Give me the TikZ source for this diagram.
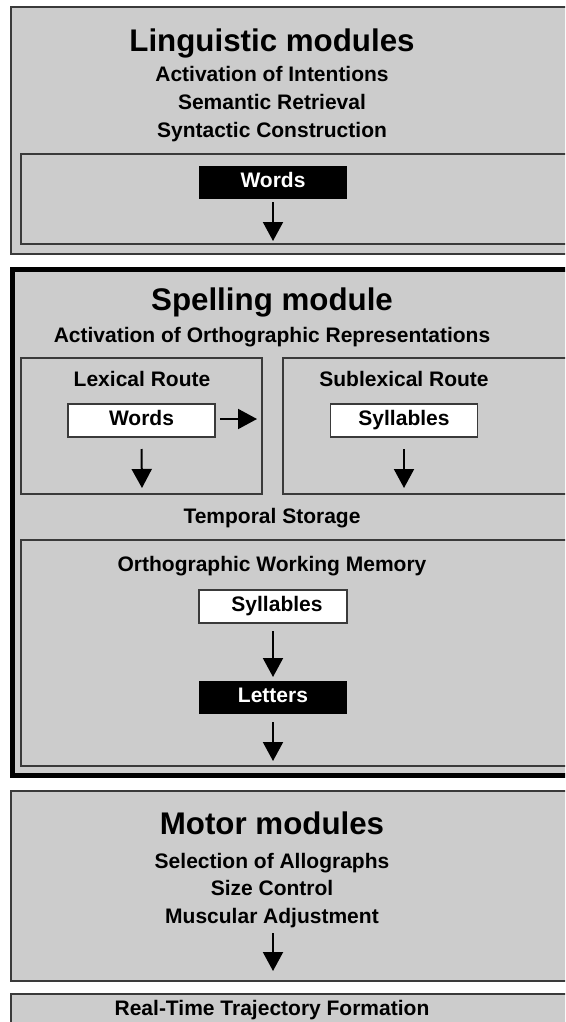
\documentclass[tikz,border=0pt]{standalone}
\usepackage{fontspec}
\setmainfont{Liberation Sans}
\usetikzlibrary{arrows.meta}
\definecolor{panelgray}{HTML}{CCCCCC}
\definecolor{edgegray}{HTML}{3A3A3A}
\begin{document}
\begin{tikzpicture}[x=1pt,y=-1pt,
  panel/.style={rectangle, draw=edgegray, line width=1.3pt, fill=panelgray, anchor=north west, inner sep=0pt, outer sep=0pt},
  thickpanel/.style={rectangle, draw=black, line width=5pt, fill=panelgray, anchor=north west, inner sep=0pt, outer sep=0pt},
  innerbox/.style={rectangle, draw=edgegray, line width=1.1pt, anchor=north west, inner sep=0pt, outer sep=0pt},
  blackbox/.style={rectangle, fill=black, text=white, font=\bfseries\fontsize{21}{25}\selectfont, minimum width=148pt, minimum height=33pt, text height=15pt, text depth=4.5pt, inner sep=0pt, outer sep=0pt},
  whitebox/.style={rectangle, fill=white, draw=edgegray, line width=1.1pt, font=\bfseries\fontsize{21}{25}\selectfont, minimum width=147pt, minimum height=33pt, text height=15pt, text depth=4.5pt, inner sep=0pt, outer sep=0pt},
  titletext/.style={font=\bfseries\fontsize{31.3}{36}\selectfont, anchor=base, inner sep=0pt},
  labeltext/.style={font=\bfseries\fontsize{21}{25}\selectfont, anchor=base, inner sep=0pt},
  arr/.style={line width=2pt, -{Triangle[width=20pt,length=19pt]}}
]
\useasboundingbox (0,0) rectangle (565,1022);
\clip (0,0) rectangle (565,1022);
\fill[white] (0,0) rectangle (565,1022);

% ---------- Linguistic modules ----------
\node[panel, minimum width=580pt, minimum height=247pt] (ling) at (11,7) {};
\node[titletext] (lingT) at (272,52) {Linguistic modules};
\node[labeltext] (ling1) at (272,82) {Activation of Intentions};
\node[labeltext] (ling2) at (272,110) {Semantic Retrieval};
\node[labeltext] (ling3) at (272,138) {Syntactic Construction};
\node[innerbox, minimum width=570pt, minimum height=90pt] (lingIn) at (21,154) {};
\node[blackbox] (wordsA) at (273,182.5) {Words};
\coordinate (wordsAend) at (273,241);
\draw[arr] ([yshift=-3pt]wordsA.south) -- (wordsAend);

% ---------- Spelling module ----------
\node[thickpanel, minimum width=600pt, minimum height=506pt] (spell) at (12.5,269.5) {};
\node[titletext] (spellT) at (272,310) {Spelling module};
\node[labeltext] (spell1) at (272,342) {Activation of Orthographic Representations};

\node[innerbox, minimum width=241pt, minimum height=136pt] (lex) at (21,358) {};
\node[labeltext] (lexT) at (142,386) {Lexical Route};
\node[whitebox] (wordsB) at (141.5,420.5) {Words};
\coordinate (lexRight) at (257,419);
\draw[arr] (220,419) coordinate (lexRightStart) -- (lexRight);
\coordinate (lexDown) at (142,488);
\draw[arr] ([yshift=-12pt]wordsB.south) -- (lexDown);

\node[innerbox, minimum width=300pt, minimum height=136pt] (sublex) at (283,358) {};
\node[labeltext] (sublexT) at (404,386) {Sublexical Route};
\node[whitebox] (sylA) at (404,420.5) {Syllables};
\coordinate (sublexDown) at (404,488);
\draw[arr] ([yshift=-12pt]sylA.south) -- (sublexDown);

\node[labeltext] (temp) at (272,523) {Temporal Storage};

\node[innerbox, minimum width=570pt, minimum height=226pt] (owm) at (21,540) {};
\node[labeltext] (owmT) at (272,571) {Orthographic Working Memory};
\node[whitebox, minimum width=148pt] (sylB) at (273,606.5) {\hspace*{8pt}Syllables};
\node[blackbox] (letters) at (273,697.5) {Letters};
\draw[arr] ([yshift=-8pt]sylB.south) -- ([yshift=4pt]letters.north);
\coordinate (owmDown) at (273,761);
\draw[arr] ([yshift=-8pt]letters.south) -- (owmDown);

% ---------- Motor modules ----------
\node[panel, minimum width=580pt, minimum height=190pt] (motor) at (11,791) {};
\node[titletext] (motorT) at (272,834) {Motor modules};
\node[labeltext] (motor1) at (272,868) {Selection of Allographs};
\node[labeltext] (motor2) at (272,895) {Size Control};
\node[labeltext] (motor3) at (272,923) {Muscular Adjustment};
\coordinate (motorDown) at (273,971);
\draw[arr] (273,933) coordinate (motorDownStart) -- (motorDown);

% ---------- Real-Time Trajectory Formation ----------
\node[panel, minimum width=580pt, minimum height=60pt] (rtt) at (11,994) {};
\node[labeltext] (rttT) at (272,1015) {Real-Time Trajectory Formation};
\end{tikzpicture}
\end{document}
